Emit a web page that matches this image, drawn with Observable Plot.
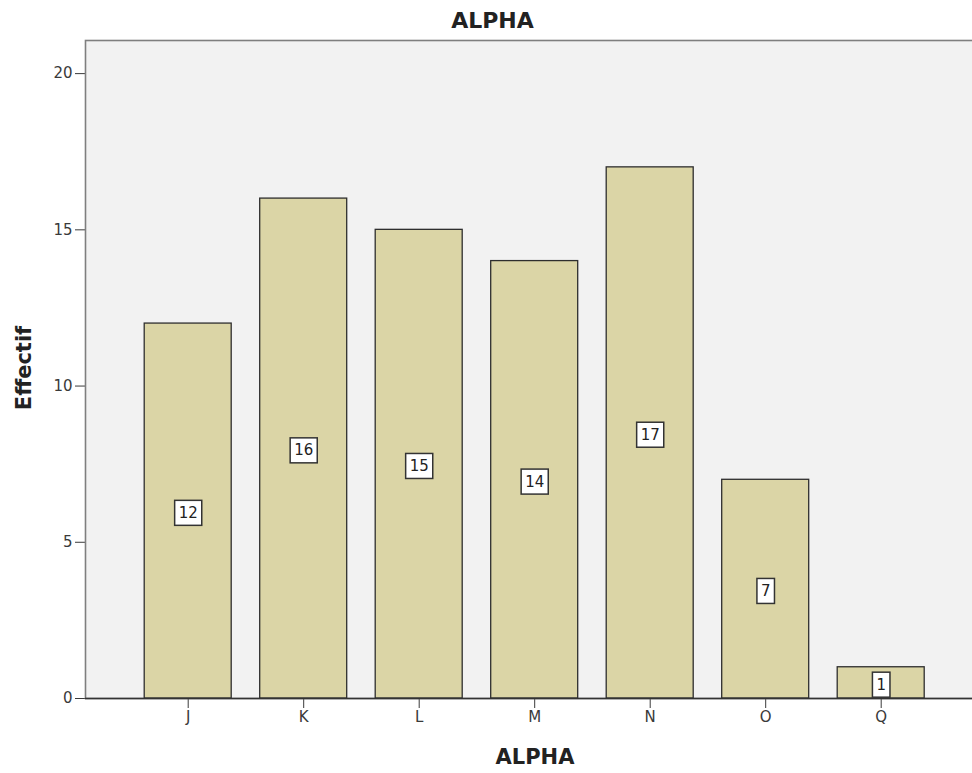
<!DOCTYPE html>
<html><head><meta charset="utf-8">
<script src="https://cdn.jsdelivr.net/npm/d3@7"></script>
<script src="https://cdn.jsdelivr.net/npm/@observablehq/plot@0.6"></script>
<style>
html,body{margin:0;padding:0;background:#fff;overflow:hidden;}
#chart svg g[aria-label*="axis"] text, #chart svg g[aria-label*="tick label"] text {font-size:15px;}
</style></head><body><div id="chart"></div>
<script>
const categories = ["J","K","L","M","N","O","Q"];
const counts = [12,16,15,14,17,7,1];
const yTicks = [0,5,10,15,20];
const titleText = "ALPHA";
const xLabel = "ALPHA";
const yLabel = "Effectif";

const data = categories.map((c,i)=>({cat:c, n:counts[i]}));

const chart = Plot.plot({
  width: 984, height: 773,
  marginLeft: 85, marginRight: 0.6, marginTop: 40, marginBottom: 75,
  style: {fontFamily: "'DejaVu Sans', sans-serif", fontSize: "14px", color: "#3a3a3a", maxWidth: "none", overflow: "visible", background: "white"},
  x: {domain: categories, paddingInner: 0.2468, paddingOuter: 0.5126, round: false, label: null, tickSize: 10, tickPadding: 3},
  y: {domain: [0, 21.06], label: null, ticks: yTicks, tickSize: 10, tickPadding: 3},
  marks: [
    Plot.frame({fill: "#f2f2f2", stroke: "#7f7f7f", strokeWidth: 1.6}),
    Plot.barY(data, {x: "cat", y: "n", fill: "#dbd5a6", stroke: "#2e2e2e", strokeWidth: 1.3}),
    Plot.ruleY([0], {stroke: "#333", strokeWidth: 1.5}),
    Plot.text(data, {x: "cat", y: d => d.n / 2, text: d => String(d.n), dy: 2, fontSize: 15, fill: "#222"}),
    Plot.text([titleText], {frameAnchor: "top", lineAnchor: "middle", dx: -42.2, dy: -20, fontSize: 22, fontWeight: "bold", fill: "#222"}),
    Plot.text([xLabel], {frameAnchor: "bottom", lineAnchor: "middle", dx: 0.3, dy: 59, fontSize: 21, fontWeight: "bold", fill: "#222"}),
    Plot.text([yLabel], {frameAnchor: "left", textAnchor: "middle", lineAnchor: "middle", dx: -61, dy: -1.5, rotate: -90, fontSize: 21, fontWeight: "bold", fill: "#222"})
  ]
});
document.getElementById("chart").appendChild(chart);

// white boxes behind value labels
const g = chart.querySelectorAll('g[aria-label="text"]')[0];
if (g) {
  g.querySelectorAll("text").forEach(t => {
    const b = t.getBBox();
    const r = document.createElementNS("http://www.w3.org/2000/svg", "rect");
    const padX = 4, h = 25;
    const cy = b.y + b.height / 2;
    r.setAttribute("x", b.x - padX);
    r.setAttribute("y", cy - h / 2);
    r.setAttribute("width", b.width + 2 * padX);
    r.setAttribute("height", h);
    r.setAttribute("fill", "white");
    r.setAttribute("stroke", "#333");
    r.setAttribute("stroke-width", 1.5);
    const tr = t.getAttribute("transform");
    if (tr) r.setAttribute("transform", tr);
    t.parentNode.insertBefore(r, t);
  });
}
</script></body></html>
